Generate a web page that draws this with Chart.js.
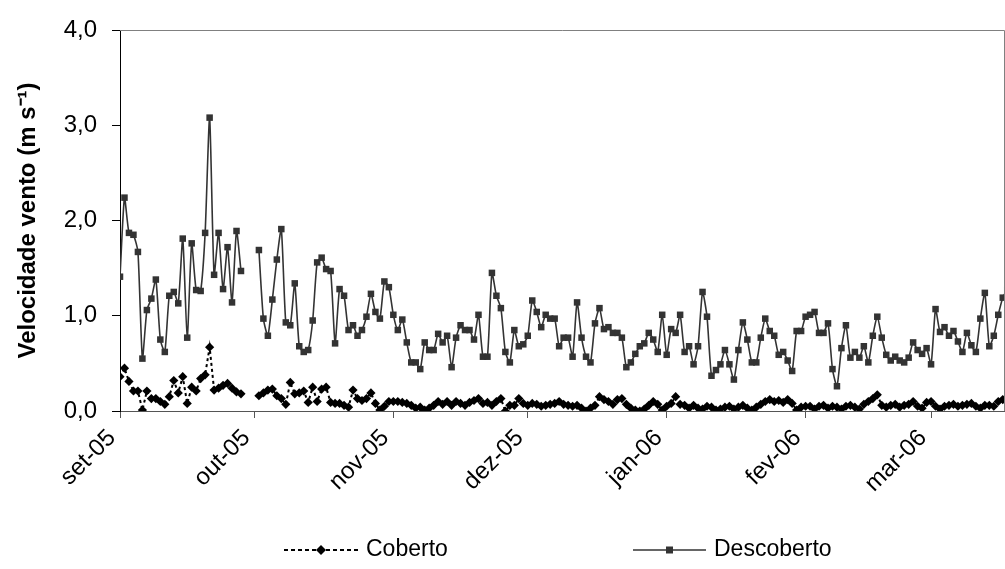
<!DOCTYPE html>
<html><head><meta charset="utf-8">
<script src="https://cdn.jsdelivr.net/npm/chart.js@4.4.1/dist/chart.umd.min.js"></script>
<style>html,body{margin:0;padding:0;background:#fff;} #wrap{width:1005px;height:569px;position:relative;}</style>
</head><body><div id="wrap"><canvas id="c" width="1005" height="569"></canvas></div>
<script>
// Day index 0 = 01/09/2005
const monthTicks = [0, 30, 61, 91, 122, 153, 181];
const monthLabels = ['set-05', 'out-05', 'nov-05', 'dez-05', 'jan-06', 'fev-06', 'mar-06'];
const yTicks = [0, 1, 2, 3, 4];
const seriesNames = ['Coberto', 'Descoberto'];

const descoberto = [
  1.41, 2.24, 1.87, 1.85, 1.67, 0.55, 1.06, 1.18, 1.38, 0.75,
  0.62, 1.21, 1.25, 1.13, 1.81, 0.77, 1.76, 1.27, 1.26, 1.87,
  3.08, 1.43, 1.87, 1.28, 1.72, 1.14, 1.89, 1.47, null, null,
  null, 1.69, 0.97, 0.79, 1.17, 1.59, 1.91, 0.93, 0.90, 1.34,
  0.68, 0.62, 0.64, 0.95, 1.56, 1.61, 1.49, 1.47, 0.71, 1.28,
  1.21, 0.85, 0.90, 0.79, 0.85, 0.99, 1.23, 1.04, 0.97, 1.36,
  1.30, 1.01, 0.85, 0.96, 0.72, 0.51, 0.51, 0.44, 0.72, 0.64,
  0.64, 0.81, 0.72, 0.79, 0.46, 0.77, 0.90, 0.85, 0.85, 0.75,
  1.01, 0.57, 0.57, 1.45, 1.21, 1.08, 0.62, 0.51, 0.85, 0.68,
  0.70, 0.79, 1.16, 1.04, 0.88, 1.01, 0.97, 0.97, 0.68, 0.77,
  0.77, 0.57, 1.14, 0.77, 0.57, 0.51, 0.92, 1.08, 0.86, 0.88,
  0.82, 0.82, 0.77, 0.46, 0.51, 0.60, 0.68, 0.71, 0.82, 0.75,
  0.62, 1.01, 0.59, 0.86, 0.82, 1.01, 0.62, 0.68, 0.49, 0.68,
  1.25, 0.99, 0.37, 0.43, 0.49, 0.64, 0.49, 0.33, 0.64, 0.93,
  0.75, 0.51, 0.51, 0.77, 0.97, 0.84, 0.79, 0.59, 0.62, 0.53,
  0.42, 0.84, 0.84, 0.99, 1.01, 1.04, 0.82, 0.82, 0.92, 0.44,
  0.26, 0.66, 0.90, 0.56, 0.62, 0.56, 0.68, 0.51, 0.79, 0.99,
  0.77, 0.59, 0.53, 0.57, 0.53, 0.51, 0.56, 0.72, 0.64, 0.60,
  0.66, 0.49, 1.07, 0.83, 0.88, 0.79, 0.84, 0.73, 0.62, 0.82,
  0.69, 0.62, 0.97, 1.24, 0.68, 0.79, 1.01, 1.19, 1.27
];

const coberto = [
  0.36, 0.45, 0.31, 0.21, 0.21, 0.01, 0.21, 0.13, 0.13, 0.10,
  0.07, 0.15, 0.32, 0.19, 0.36, 0.08, 0.25, 0.21, 0.34, 0.38,
  0.67, 0.22, 0.24, 0.27, 0.29, 0.24, 0.20, 0.18, null, null,
  null, 0.16, 0.19, 0.22, 0.23, 0.16, 0.13, 0.07, 0.30, 0.18,
  0.19, 0.21, 0.09, 0.25, 0.10, 0.23, 0.25, 0.09, 0.08, 0.08,
  0.06, 0.04, 0.22, 0.13, 0.11, 0.13, 0.19, 0.08, 0.01, 0.05,
  0.10, 0.10, 0.10, 0.09, 0.08, 0.06, 0.03, 0.04, 0.01, 0.03,
  0.06, 0.10, 0.07, 0.10, 0.06, 0.10, 0.08, 0.06, 0.09, 0.11,
  0.13, 0.08, 0.09, 0.06, 0.10, 0.13, 0.00, 0.06, 0.06, 0.13,
  0.08, 0.06, 0.08, 0.07, 0.05, 0.06, 0.07, 0.08, 0.10, 0.07,
  0.06, 0.05, 0.06, 0.03, 0.00, 0.03, 0.06, 0.15, 0.12, 0.10,
  0.07, 0.12, 0.13, 0.07, 0.03, 0.01, 0.00, 0.02, 0.06, 0.10,
  0.07, 0.01, 0.05, 0.08, 0.15, 0.07, 0.06, 0.03, 0.06, 0.03,
  0.02, 0.05, 0.04, 0.01, 0.02, 0.04, 0.05, 0.02, 0.04, 0.06,
  0.03, 0.01, 0.04, 0.07, 0.10, 0.12, 0.10, 0.11, 0.09, 0.12,
  0.08, 0.01, 0.04, 0.05, 0.05, 0.02, 0.05, 0.06, 0.03, 0.05,
  0.04, 0.02, 0.05, 0.06, 0.04, 0.02, 0.07, 0.10, 0.13, 0.17,
  0.06, 0.04, 0.06, 0.07, 0.04, 0.06, 0.07, 0.10, 0.05, 0.03,
  0.09, 0.10, 0.05, 0.02, 0.05, 0.06, 0.07, 0.05, 0.06, 0.07,
  0.08, 0.05, 0.03, 0.06, 0.06, 0.05, 0.10, 0.12, 0.13
];

const FONT = "'Liberation Sans', Arial, sans-serif";
const toPts = arr => arr.map((v, i) => ({x: i, y: v}));

const frameAndLegend = {
  id: 'frameAndLegend',
  afterDraw(chart) {
    const ctx = chart.ctx, a = chart.chartArea;
    ctx.save();
    ctx.strokeStyle = '#808080';
    ctx.lineWidth = 1;
    ctx.beginPath();
    ctx.moveTo(a.left, a.top + 0.5);
    ctx.lineTo(a.right - 0.5, a.top + 0.5);
    ctx.lineTo(a.right - 0.5, a.bottom);
    ctx.stroke();
    const y = 550;
    const items = [
      {x0: 284, x1: 358, dash: [4, 3], w: 2, color: '#000', shape: 'diamond', label: seriesNames[0]},
      {x0: 633, x1: 706, dash: [], w: 1.5, color: '#333', shape: 'square', label: seriesNames[1]}
    ];
    items.forEach(it => {
      ctx.strokeStyle = it.color;
      ctx.lineWidth = it.w;
      ctx.setLineDash(it.dash);
      ctx.beginPath();
      ctx.moveTo(it.x0, y);
      ctx.lineTo(it.x1, y);
      ctx.stroke();
      ctx.setLineDash([]);
      const cx = (it.x0 + it.x1) / 2;
      ctx.fillStyle = it.color;
      ctx.beginPath();
      if (it.shape === 'diamond') {
        ctx.moveTo(cx, y - 5); ctx.lineTo(cx + 5, y); ctx.lineTo(cx, y + 5); ctx.lineTo(cx - 5, y);
      } else {
        ctx.rect(cx - 3.5, y - 3.5, 7, 7);
      }
      ctx.closePath();
      ctx.fill();
      ctx.fillStyle = '#000';
      ctx.font = '23px ' + FONT;
      ctx.textBaseline = 'middle';
      ctx.textAlign = 'left';
      ctx.fillText(it.label, it.x1 + 8, y);
    });
    ctx.restore();
  }
};

new Chart(document.getElementById('c'), {
  type: 'line',
  data: {
    datasets: [
      {
        label: seriesNames[0],
        data: toPts(coberto),
        borderColor: '#000',
        backgroundColor: '#000',
        borderWidth: 2,
        borderDash: [3, 3],
        pointStyle: 'rectRot',
        pointRadius: 4.6,
        pointBorderWidth: 0,
        tension: 0,
        spanGaps: false
      },
      {
        label: seriesNames[1],
        data: toPts(descoberto),
        borderColor: '#333',
        backgroundColor: '#333',
        borderWidth: 1.6,
        pointStyle: 'rect',
        pointRadius: 4.6,
        pointBorderWidth: 0,
        tension: 0.2,
        spanGaps: false
      }
    ]
  },
  options: {
    responsive: false,
    animation: false,
    devicePixelRatio: 1,
    layout: {autoPadding: false, padding: {top: 30, right: 0, bottom: 0, left: 0}},
    plugins: {legend: {display: false}, tooltip: {enabled: false}},
    scales: {
      x: {
        type: 'linear',
        min: 0,
        max: 197.5,
        afterBuildTicks: s => { s.ticks = monthTicks.map(v => ({value: v})); },
        afterFit: s => { s.height = 158; },
        grid: {display: true, drawOnChartArea: false, drawTicks: true, tickLength: 7, color: '#555'},
        border: {display: true, color: '#555', width: 1},
        ticks: {
          autoSkip: false,
          maxRotation: 45,
          minRotation: 45,
          color: '#000',
          padding: 6,
          labelOffset: -8,
          font: {family: FONT, size: 24},
          callback: v => { const i = monthTicks.indexOf(v); return i >= 0 ? monthLabels[i] : ''; }
        }
      },
      y: {
        min: 0,
        max: 4,
        afterBuildTicks: s => { s.ticks = yTicks.map(v => ({value: v})); },
        afterFit: s => { s.width = 120; },
        grid: {display: true, drawOnChartArea: false, drawTicks: true, tickLength: 8, color: '#000'},
        border: {display: true, color: '#000', width: 1},
        ticks: {
          color: '#000',
          padding: 15,
          font: {family: FONT, size: 24},
          callback: v => v.toFixed(1).replace('.', ',')
        },
        title: {
          display: true,
          text: 'Velocidade vento (m s\u207B\u00B9)',
          color: '#000',
          font: {family: FONT, size: 24, weight: 'bold'},
          padding: {top: 14, bottom: 0}
        }
      }
    }
  },
  plugins: [frameAndLegend]
});
</script>
</body></html>
